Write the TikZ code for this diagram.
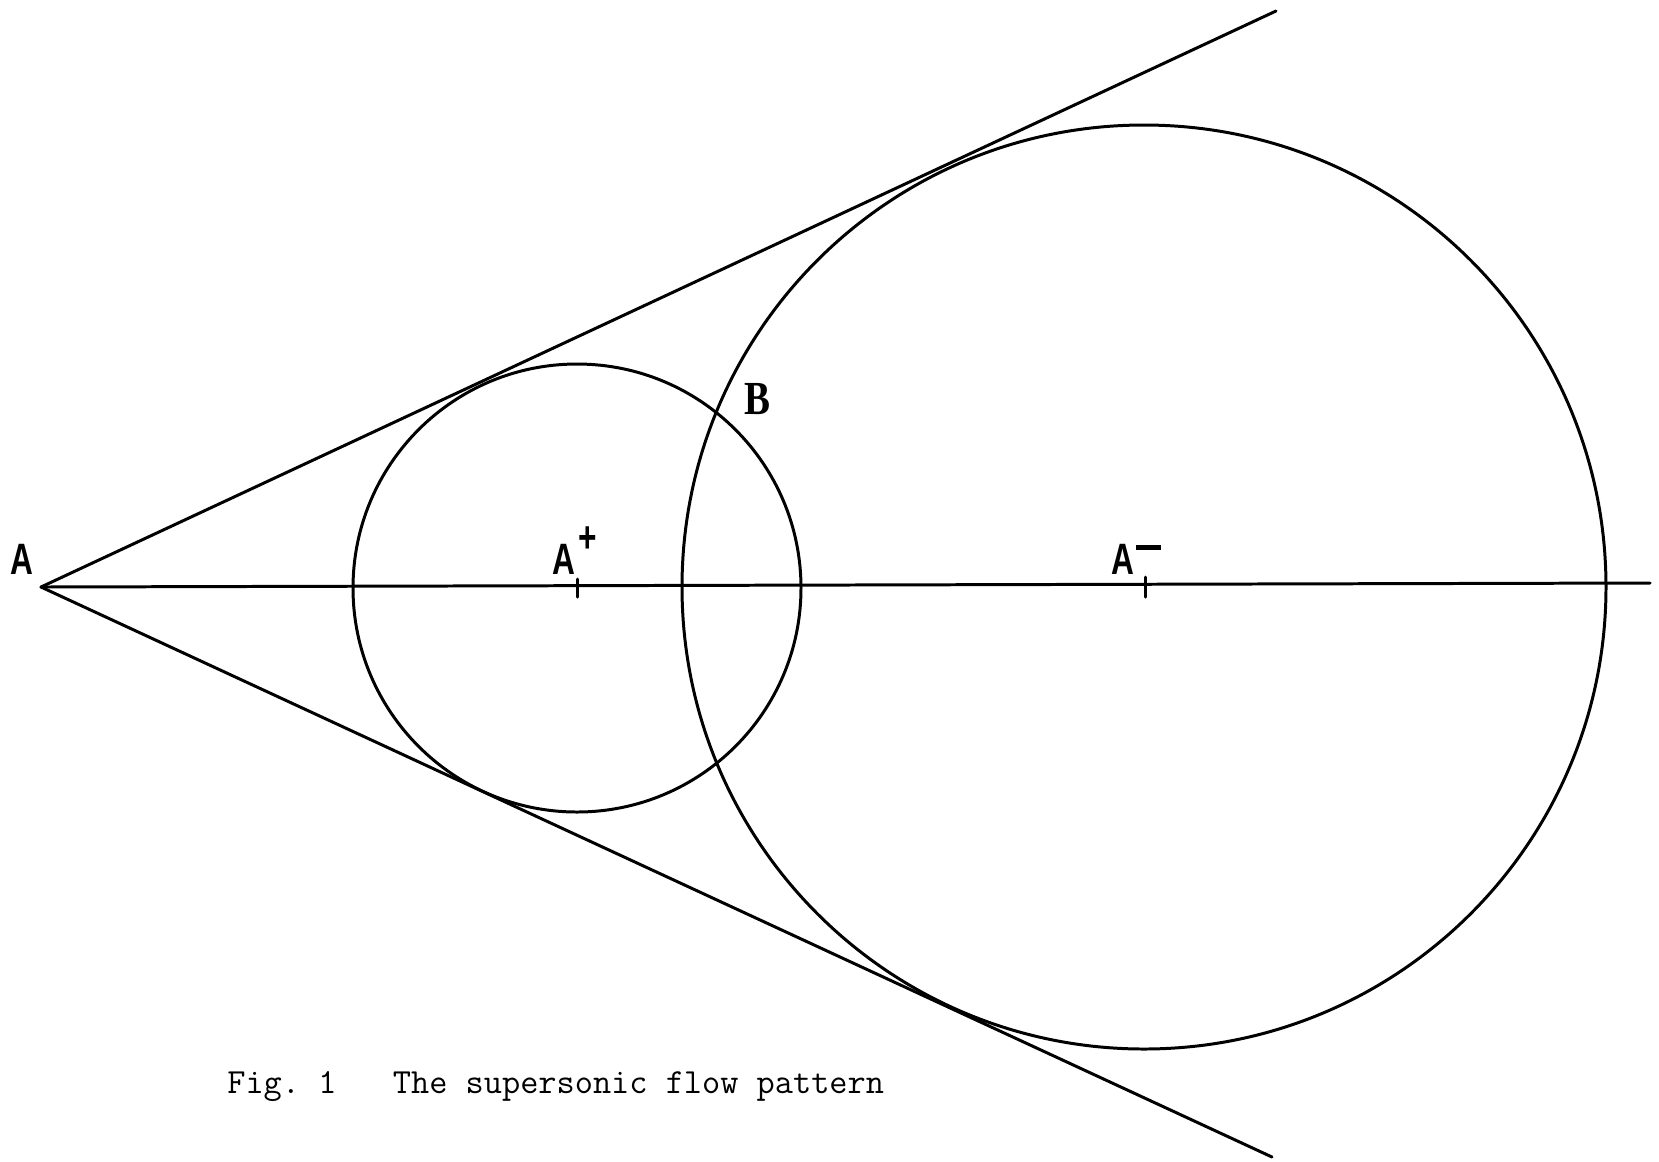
\documentclass[tikz,border=0pt]{standalone}
\usepackage{fontspec}
\newfontfamily\labfont{Liberation Sans}
\newfontfamily\ptfont{Liberation Serif}
\begin{document}
\begin{tikzpicture}[x=0.02cm,y=-0.02cm,
  geo/.style={line width=1.7pt, line cap=round, line join=round},
  lab/.style={font=\labfont\bfseries\fontsize{25}{25}\selectfont, inner sep=0pt, xscale=0.72},
  ptlab/.style={font=\ptfont\bfseries\fontsize{27}{27}\selectfont, inner sep=0pt, xscale=0.82},
  figcaption/.style={font=\ttfamily\fontsize{20.1}{22}\selectfont, inner sep=0pt, anchor=base west}
]
\useasboundingbox (0,0) rectangle (1659,1161);
\coordinate (A) at (41,587);
\coordinate (Ap) at (577,588);
\coordinate (Am) at (1144,587);
\coordinate (Eu) at (1276,11);
\coordinate (El) at (1272,1157);
\coordinate (Er) at (1650,583);
% lines
\draw[geo] (A) -- (Eu);
\draw[geo] (A) -- (El);
\draw[geo] (A) -- (Er);
% circles
\draw[geo] (Ap) circle[radius=224];
\draw[geo] (Am) circle[radius=462];
% ticks
\draw[geo] (577,579) -- (577,597);
\draw[geo] (1145,577) -- (1145,597);
% labels
\node[lab] (lA) at (22,559) {A};
\node[lab, anchor=base west] (lAp) at (552,574) {A\raisebox{0.5em}{\hspace{0.1em}+}};
\node[lab, anchor=base west] (lAm) at (1111,574) {A\raisebox{0.55em}{\hspace{0.05em}\rule{0.8em}{0.1em}}};
\node[ptlab] (lB) at (757,399) {B};
\node[figcaption] (caption) at (227,1093) {Fig.\ 1\hspace{1.6em}The supersonic flow pattern};
\end{tikzpicture}
\end{document}
